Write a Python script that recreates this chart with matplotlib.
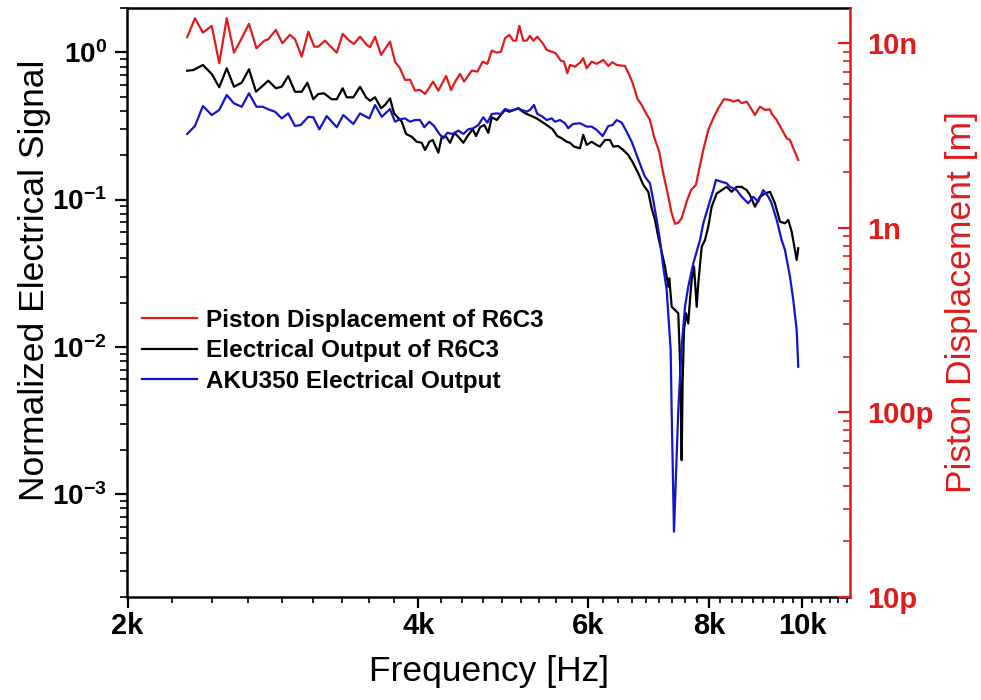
import matplotlib
matplotlib.use("Agg")
import matplotlib.pyplot as plt
from matplotlib.ticker import FixedLocator, FixedFormatter, LogLocator, NullFormatter

plt.rcParams['font.family'] = ['Liberation Sans', 'DejaVu Sans']
plt.rcParams['font.weight'] = 'bold'
plt.rcParams['mathtext.fontset'] = 'custom'
plt.rcParams['mathtext.rm'] = 'Liberation Sans'
plt.rcParams['mathtext.bf'] = 'Liberation Sans:bold'

# Piston displacement of R6C3 (nm)
disp_freq = [2306, 2349, 2394, 2445, 2489, 2534, 2578, 2626, 2672, 2720,
             2772, 2798, 2849, 2893, 2946, 2982, 3030, 3078, 3122, 3152,
             3203, 3294, 3341, 3394, 3432, 3482, 3538, 3566, 3609, 3661,
             3740, 3785, 3830, 3876, 3923, 3970, 4017, 4066, 4114, 4144,
             4197, 4275, 4326, 4375, 4420, 4462, 4545, 4606, 4665, 4717,
             4767, 4824, 4873, 4920, 4971, 5018, 5051, 5091, 5139, 5181,
             5222, 5263, 5314, 5383, 5434, 5499, 5552, 5619, 5663, 5708,
             5744, 5813, 5883, 5929, 5978, 6049, 6122, 6219, 6294, 6354,
             6421, 6549, 6617, 6670, 6750, 6815, 6885, 6951, 7018, 7107,
             7175, 7244, 7321, 7379, 7437, 7497, 7587, 7666, 7758, 7800,
             7894, 7988, 8084, 8181, 8293, 8412, 8479, 8580, 8650, 8754,
             8823, 8929, 9036, 9144, 9254, 9292, 9403, 9516, 9630, 9706,
             9783, 9900]
disp_nm = [10.77, 13.64, 11.40, 12.40, 7.78, 13.64, 8.88, 10.63, 12.71, 9.38,
           10.31, 10.50, 11.79, 9.99, 11.08, 10.50, 8.45, 11.54, 9.57, 9.57,
           10.31, 8.88, 11.22, 10.31, 9.90, 10.84, 9.78, 9.50, 10.84, 8.63,
           10.19, 7.94, 7.31, 6.32, 6.34, 5.53, 5.58, 5.31, 5.81, 6.19,
           5.53, 6.64, 5.58, 6.27, 6.81, 6.19, 7.10, 7.01, 7.94, 7.72,
           9.11, 8.88, 8.99, 10.63, 11.08, 10.31, 10.31, 12.40, 10.31, 10.31,
           10.94, 10.31, 10.84, 9.99, 9.19, 8.99, 8.82, 8.04, 7.94, 6.87,
           7.62, 7.46, 7.84, 8.28, 7.31, 7.94, 7.72, 8.11, 7.52, 7.88,
           7.62, 7.52, 6.73, 6.07, 4.97, 4.63, 4.17, 3.84, 3.12, 2.58,
           1.97, 1.57, 1.198, 1.049, 1.066, 1.126, 1.385, 1.60, 1.71, 1.97,
           2.64, 3.39, 3.92, 4.44, 4.97, 4.92, 4.82, 4.92, 4.73, 4.82,
           4.53, 4.08, 4.53, 4.35, 4.38, 4.14, 3.84, 3.42, 3.05, 2.99,
           2.70, 2.33]

# Electrical output of R6C3 (normalized)
r6c3_freq = [2306, 2340, 2394, 2445, 2489, 2534, 2578, 2626, 2672, 2717,
             2754, 2798, 2849, 2889, 2934, 2982, 3030, 3071, 3115, 3152,
             3195, 3255, 3294, 3341, 3373, 3427, 3482, 3532, 3566, 3609,
             3661, 3696, 3740, 3776, 3846, 3886, 3939, 3986, 4034, 4066,
             4108, 4141, 4197, 4231, 4275, 4316, 4360, 4402, 4455, 4508,
             4556, 4592, 4636, 4683, 4728, 4767, 4824, 4870, 4920, 4971,
             5027, 5079, 5132, 5181, 5243, 5306, 5370, 5434, 5512, 5573,
             5632, 5700, 5744, 5800, 5883, 5929, 5978, 6049, 6122, 6170,
             6244, 6319, 6369, 6445, 6523, 6601, 6680, 6760, 6841, 6923,
             6980, 7035, 7090, 7205, 7262, 7279, 7321, 7379, 7437, 7467,
             7485, 7497, 7515, 7539, 7575, 7616, 7647, 7678, 7721, 7771,
             7800, 7864, 7926, 7988, 8053, 8150, 8248, 8346, 8446, 8548,
             8650, 8754, 8823, 8929, 9036, 9144, 9254, 9365, 9477, 9591,
             9667, 9746, 9863, 9900]
r6c3_sig = [0.750, 0.758, 0.820, 0.712, 0.579, 0.779, 0.584, 0.622, 0.767, 0.540,
            0.584, 0.642, 0.570, 0.584, 0.690, 0.540, 0.540, 0.622, 0.480, 0.521,
            0.527, 0.480, 0.480, 0.570, 0.495, 0.495, 0.584, 0.495, 0.469, 0.495,
            0.417, 0.439, 0.487, 0.385, 0.338, 0.279, 0.267, 0.247, 0.243, 0.217,
            0.247, 0.254, 0.208, 0.267, 0.267, 0.243, 0.284, 0.267, 0.243, 0.275,
            0.300, 0.270, 0.310, 0.321, 0.284, 0.362, 0.347, 0.375, 0.406, 0.395,
            0.406, 0.417, 0.395, 0.381, 0.369, 0.356, 0.338, 0.321, 0.300, 0.270,
            0.261, 0.247, 0.243, 0.229, 0.223, 0.275, 0.235, 0.247, 0.235, 0.229,
            0.254, 0.254, 0.229, 0.231, 0.217, 0.201, 0.176, 0.151, 0.126, 0.113,
            0.0872, 0.0727, 0.0560, 0.0350, 0.0256, 0.0292, 0.0187, 0.0178, 0.0169, 0.00814,
            0.00354, 0.00170, 0.00595, 0.0130, 0.0169, 0.0144, 0.0208, 0.0284, 0.0350, 0.0187,
            0.0270, 0.0479, 0.0531, 0.0654, 0.0895, 0.110, 0.116, 0.122, 0.113, 0.122,
            0.122, 0.116, 0.1074, 0.0895, 0.1046, 0.110, 0.113, 0.0943, 0.0708, 0.0690,
            0.0727, 0.0605, 0.0389, 0.0467]

# AKU350 reference microphone electrical output (normalized)
aku_freq = [2306, 2349, 2394, 2445, 2489, 2534, 2578, 2626, 2672, 2720,
            2761, 2798, 2843, 2889, 2934, 2982, 3023, 3078, 3115, 3160,
            3216, 3294, 3346, 3427, 3482, 3560, 3609, 3667, 3740, 3785,
            3830, 3876, 3923, 3970, 4017, 4059, 4108, 4154, 4207, 4247,
            4288, 4343, 4402, 4455, 4508, 4562, 4617, 4672, 4717, 4767,
            4824, 4870, 4920, 4979, 5027, 5079, 5120, 5181, 5222, 5272,
            5314, 5370, 5434, 5499, 5543, 5609, 5677, 5721, 5782, 5883,
            5978, 6049, 6122, 6210, 6294, 6360, 6421, 6498, 6576, 6655,
            6734, 6815, 6869, 6951, 7006, 7064, 7119, 7175, 7234, 7303,
            7321, 7338, 7361, 7437, 7497, 7557, 7616, 7708, 7832, 7894,
            7988, 8084, 8136, 8248, 8346, 8412, 8548, 8650, 8787, 8893,
            8999, 9107, 9217, 9292, 9403, 9516, 9591, 9706, 9783, 9863,
            9900]
aku_sig = [0.279, 0.316, 0.432, 0.375, 0.406, 0.513, 0.450, 0.427, 0.527, 0.427,
           0.427, 0.410, 0.395, 0.356, 0.385, 0.316, 0.321, 0.365, 0.362, 0.300,
           0.369, 0.310, 0.375, 0.326, 0.385, 0.356, 0.439, 0.365, 0.412, 0.338,
           0.351, 0.356, 0.338, 0.347, 0.347, 0.310, 0.338, 0.316, 0.279, 0.261,
           0.284, 0.279, 0.294, 0.279, 0.300, 0.305, 0.321, 0.362, 0.333, 0.381,
           0.385, 0.381, 0.412, 0.401, 0.406, 0.417, 0.406, 0.395, 0.406, 0.439,
           0.381, 0.369, 0.347, 0.356, 0.338, 0.347, 0.330, 0.305, 0.326, 0.330,
           0.313, 0.313, 0.297, 0.270, 0.316, 0.321, 0.347, 0.333, 0.289, 0.247,
           0.201, 0.163, 0.143, 0.129, 0.0993, 0.0727, 0.0531, 0.0350, 0.0243, 0.00952,
           0.00355, 0.00163, 0.000555, 0.00372, 0.0100, 0.0187, 0.0256, 0.0369, 0.0531, 0.0690,
           0.0895, 0.116, 0.136, 0.132, 0.129, 0.122, 0.116, 0.1046, 0.0943, 0.1046,
           0.0967, 0.116, 0.1046, 0.0943, 0.0727, 0.0531, 0.0455, 0.0300, 0.0208, 0.0130,
           0.00733]

series_labels = ['Piston Displacement of R6C3', 'Electrical Output of R6C3',
                 'AKU350 Electrical Output']

x_major = [2000, 4000, 6000, 8000, 10000]
x_major_labels = ['2k', '4k', '6k', '8k', '10k']
left_major = [1e-3, 1e-2, 1e-1, 1e0]
left_major_labels = [r'$\mathbf{10^{-3}}$', r'$\mathbf{10^{-2}}$',
                     r'$\mathbf{10^{-1}}$', r'$\mathbf{10^{0}}$']
right_major = [1e-11, 1e-10, 1e-9, 1e-8]
right_major_labels = ['10p', '100p', '1n', '10n']

RED = '#E01B1B'
BLUE = '#1414C8'
BLACK = '#000000'
W, H = 981, 700

fig = plt.figure(figsize=(W / 100, H / 100), dpi=100)
ax = fig.add_axes([127.5 / W, 1 - 597 / H, 722.5 / W, 589 / H])
ax2 = ax.twinx()

ln_b, = ax.plot(r6c3_freq, r6c3_sig, color=BLACK, lw=1.6)
ln_u, = ax.plot(aku_freq, aku_sig, color=BLUE, lw=1.6)
ln_r, = ax2.plot(disp_freq, [v * 1e-9 for v in disp_nm], color=RED, lw=1.6)

ax.set_xscale('log')
ax.set_yscale('log')
ax2.set_yscale('log')
ax.set_xlim(2000, 11200)
ax.set_ylim(2e-4, 2)
ax2.set_ylim(1e-11, 1.55e-8)

# x ticks: majors every 2 kHz, eight evenly spaced minors between majors
ax.xaxis.set_major_locator(FixedLocator(x_major))
ax.xaxis.set_major_formatter(FixedFormatter(x_major_labels))
step = 2000 / 9
minors = [2000 + k * step for k in range(1, 45) if (k % 9) != 0 and 2000 + k * step < 11200]
ax.xaxis.set_minor_locator(FixedLocator(minors))
ax.xaxis.set_minor_formatter(NullFormatter())

ax.yaxis.set_major_locator(FixedLocator(left_major))
ax.yaxis.set_major_formatter(FixedFormatter(left_major_labels))
ax.yaxis.set_minor_locator(LogLocator(base=10, subs=range(2, 10)))
ax.yaxis.set_minor_formatter(NullFormatter())

ax2.yaxis.set_major_locator(FixedLocator(right_major))
ax2.yaxis.set_major_formatter(FixedFormatter(right_major_labels))
ax2.yaxis.set_minor_locator(LogLocator(base=10, subs=range(2, 10)))
ax2.yaxis.set_minor_formatter(NullFormatter())

for s in ['left', 'bottom', 'top']:
    ax.spines[s].set_linewidth(1.8)
    ax2.spines[s].set_visible(False)
ax.spines['right'].set_visible(False)
ax2.spines['right'].set_color(RED)
ax2.spines['right'].set_linewidth(1.8)

ax.tick_params(axis='x', which='major', direction='out', length=8, width=1.6,
               labelsize=21, pad=3)
ax.tick_params(axis='x', which='minor', direction='out', length=4, width=1.2)
ax.tick_params(axis='y', which='major', direction='out', length=9, width=1.6,
               labelsize=20, pad=6)
ax.tick_params(axis='y', which='minor', direction='out', length=5, width=1.2)
ax2.tick_params(axis='y', which='major', direction='in', length=9, width=1.6,
                labelsize=21, pad=12, colors=RED)
ax2.tick_params(axis='y', which='minor', direction='in', length=5, width=1.2,
                colors=RED)

fig.text(35 / W, 1 - 280 / H, 'Normalized Electrical Signal', rotation=90,
         ha='center', va='center', fontsize=25.5, fontweight='normal')
fig.text(489 / W, 1 - 672 / H, 'Frequency [Hz]', ha='center', va='center',
         fontsize=25.5, fontweight='normal')
fig.text(961 / W, 1 - 302 / H, 'Piston Displacement [m]', rotation=90,
         ha='center', va='center', fontsize=25.5, fontweight='normal', color=RED)

ax2.legend([ln_r, ln_b, ln_u], series_labels, loc='upper left',
           bbox_to_anchor=(142 / W, 1 - 309 / H), bbox_transform=fig.transFigure,
           frameon=False, borderpad=0, borderaxespad=0, handlelength=2.25,
           handletextpad=0.4, labelspacing=0.3,
           prop={'weight': 'bold', 'size': 17.5})

fig.savefig('out.png', dpi=100)
